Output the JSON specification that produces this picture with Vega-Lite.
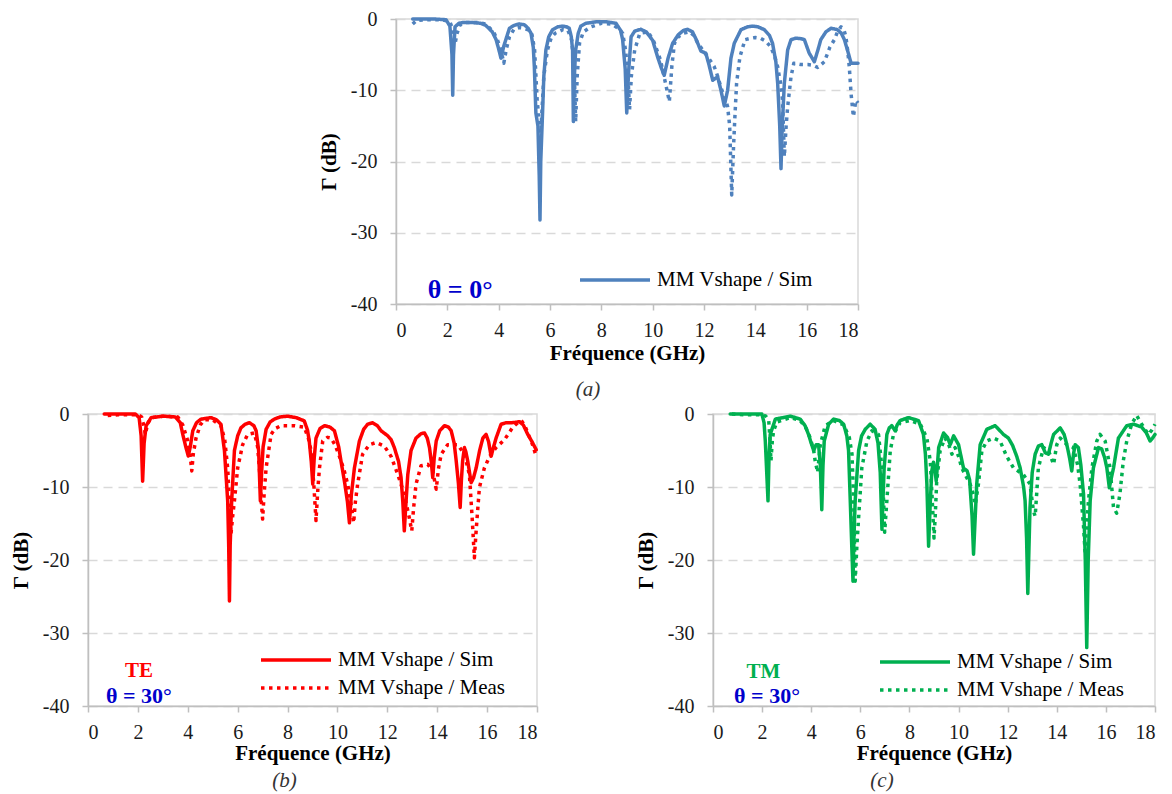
{
"$schema": "https://vega.github.io/schema/vega-lite/v6.json",
"padding": {"left": 9, "top": 8, "right": 0, "bottom": 0},
"config": {
 "font": "Liberation Serif",
 "view": {"stroke": "#d9d9d9", "strokeWidth": 1.5},
 "axis": {"domainColor": "#bfbfbf", "domainWidth": 1.5, "tickColor": "#bfbfbf", "tickWidth": 1.5, "tickSize": 6,
  "labelFont": "Liberation Serif", "labelFontSize": 20, "labelColor": "#1a1a1a",
  "titleFont": "Liberation Serif", "titleFontSize": 21, "titleFontWeight": "bold", "titleColor": "#000000",
  "gridColor": "#d9d9d9", "gridDash": [9, 6], "gridWidth": 1.5},
 "legend": {"labelFont": "Liberation Serif", "labelFontSize": 21, "labelColor": "#000000", "labelLimit": 0, "symbolType": "stroke", "symbolSize": 4900, "symbolStrokeWidth": 3.5, "symbolOpacity": 1, "clipHeight": 22, "rowPadding": 6, "labelOffset": 5, "padding": 0, "orient": "none"},
 "title": {"orient": "bottom", "fontStyle": "italic", "fontWeight": "normal", "fontSize": 21, "font": "Liberation Serif", "color": "#333333", "frame": "group", "anchor": "middle", "offset": 7}
},
"datasets": {
 "a_sim": [{"f":0.65,"db":0},{"f":1.0,"db":0},{"f":1.5,"db":0},{"f":1.95,"db":-0.1},{"f":2.1,"db":-1.0},{"f":2.18,"db":-5},{"f":2.21,"db":-10.7},{"f":2.24,"db":-5},{"f":2.3,"db":-1.1},{"f":2.45,"db":-0.6},{"f":2.6,"db":-0.5},{"f":3.0,"db":-0.5},{"f":3.3,"db":-0.6},{"f":3.5,"db":-0.9},{"f":3.75,"db":-1.8},{"f":3.9,"db":-2.9},{"f":4.0,"db":-4.2},{"f":4.09,"db":-5.5},{"f":4.2,"db":-3.8},{"f":4.42,"db":-1.3},{"f":4.6,"db":-0.9},{"f":4.8,"db":-0.7},{"f":5.0,"db":-0.8},{"f":5.15,"db":-1.3},{"f":5.26,"db":-2.0},{"f":5.35,"db":-4.0},{"f":5.39,"db":-6.7},{"f":5.45,"db":-13.2},{"f":5.53,"db":-15},{"f":5.58,"db":-22},{"f":5.61,"db":-28.2},{"f":5.64,"db":-20},{"f":5.71,"db":-13.2},{"f":5.76,"db":-8},{"f":5.84,"db":-4.35},{"f":5.95,"db":-2.5},{"f":6.1,"db":-1.5},{"f":6.3,"db":-1.1},{"f":6.49,"db":-1.0},{"f":6.65,"db":-1.1},{"f":6.75,"db":-1.3},{"f":6.83,"db":-2.5},{"f":6.88,"db":-4.35},{"f":6.91,"db":-14.4},{"f":6.95,"db":-8},{"f":7.0,"db":-4.35},{"f":7.1,"db":-2.0},{"f":7.2,"db":-1.0},{"f":7.4,"db":-0.6},{"f":7.79,"db":-0.4},{"f":8.2,"db":-0.4},{"f":8.57,"db":-0.6},{"f":8.75,"db":-1.6},{"f":8.83,"db":-2.9},{"f":8.93,"db":-7},{"f":8.99,"db":-13.2},{"f":9.05,"db":-8},{"f":9.16,"db":-2.5},{"f":9.3,"db":-1.7},{"f":9.54,"db":-1.45},{"f":9.75,"db":-1.8},{"f":10.0,"db":-3.0},{"f":10.19,"db":-5.3},{"f":10.33,"db":-6.8},{"f":10.45,"db":-7.9},{"f":10.6,"db":-5.5},{"f":10.78,"db":-3.4},{"f":11.0,"db":-2.2},{"f":11.2,"db":-1.6},{"f":11.36,"db":-1.45},{"f":11.55,"db":-1.8},{"f":11.7,"db":-2.9},{"f":11.88,"db":-4.5},{"f":12.07,"db":-4.8},{"f":12.2,"db":-6.5},{"f":12.34,"db":-8.6},{"f":12.53,"db":-8.1},{"f":12.66,"db":-10.0},{"f":12.79,"db":-12.2},{"f":12.92,"db":-10},{"f":13.05,"db":-5.5},{"f":13.18,"db":-3.4},{"f":13.44,"db":-1.5},{"f":13.7,"db":-1.1},{"f":13.9,"db":-1.0},{"f":14.1,"db":-1.1},{"f":14.35,"db":-1.5},{"f":14.55,"db":-2.3},{"f":14.67,"db":-3.4},{"f":14.8,"db":-6},{"f":14.87,"db":-9.0},{"f":14.95,"db":-15},{"f":15.0,"db":-21.0},{"f":15.05,"db":-15},{"f":15.13,"db":-9.0},{"f":15.26,"db":-4.35},{"f":15.39,"db":-2.9},{"f":15.58,"db":-2.7},{"f":15.75,"db":-2.75},{"f":15.91,"db":-2.9},{"f":16.1,"db":-4.8},{"f":16.3,"db":-6.0},{"f":16.45,"db":-4.2},{"f":16.55,"db":-2.9},{"f":16.75,"db":-1.8},{"f":16.95,"db":-1.3},{"f":17.2,"db":-1.5},{"f":17.35,"db":-2.0},{"f":17.47,"db":-2.9},{"f":17.6,"db":-4.5},{"f":17.73,"db":-6.2},{"f":18.0,"db":-6.2}],
 "a_meas": [{"f":0.65,"db":-0.7},{"f":0.8,"db":-0.2},{"f":1.2,"db":-0.1},{"f":1.8,"db":-0.1},{"f":2.1,"db":-0.4},{"f":2.22,"db":-1.5},{"f":2.3,"db":-3.5},{"f":2.38,"db":-2.0},{"f":2.5,"db":-0.8},{"f":2.7,"db":-0.5},{"f":3.2,"db":-0.5},{"f":3.5,"db":-0.7},{"f":3.8,"db":-1.8},{"f":3.95,"db":-2.9},{"f":4.1,"db":-4.5},{"f":4.2,"db":-6.2},{"f":4.3,"db":-4.2},{"f":4.42,"db":-2.5},{"f":4.6,"db":-1.4},{"f":4.8,"db":-1.2},{"f":5.0,"db":-1.3},{"f":5.2,"db":-1.6},{"f":5.3,"db":-2.2},{"f":5.4,"db":-4.35},{"f":5.5,"db":-11.4},{"f":5.57,"db":-14},{"f":5.64,"db":-16},{"f":5.7,"db":-12},{"f":5.76,"db":-8},{"f":5.9,"db":-4.35},{"f":6.05,"db":-2.6},{"f":6.2,"db":-2.0},{"f":6.5,"db":-1.5},{"f":6.7,"db":-1.6},{"f":6.85,"db":-3},{"f":6.95,"db":-8},{"f":7.0,"db":-14.4},{"f":7.06,"db":-8},{"f":7.15,"db":-3.4},{"f":7.3,"db":-1.8},{"f":7.6,"db":-1.1},{"f":8.0,"db":-0.6},{"f":8.4,"db":-0.7},{"f":8.7,"db":-1.4},{"f":8.83,"db":-2.0},{"f":8.95,"db":-4.5},{"f":9.05,"db":-9},{"f":9.1,"db":-12.7},{"f":9.17,"db":-8},{"f":9.3,"db":-4.35},{"f":9.5,"db":-2.0},{"f":9.82,"db":-1.8},{"f":10.05,"db":-3.2},{"f":10.3,"db":-5.7},{"f":10.5,"db":-9},{"f":10.65,"db":-11.6},{"f":10.75,"db":-6.5},{"f":10.85,"db":-3.4},{"f":11.0,"db":-2.5},{"f":11.2,"db":-2.0},{"f":11.45,"db":-1.8},{"f":11.6,"db":-2.3},{"f":11.76,"db":-3.4},{"f":12.0,"db":-4.6},{"f":12.15,"db":-5.3},{"f":12.4,"db":-6.7},{"f":12.55,"db":-8.2},{"f":12.66,"db":-9.6},{"f":12.8,"db":-11},{"f":12.92,"db":-12.3},{"f":13.0,"db":-15},{"f":13.08,"db":-24.7},{"f":13.15,"db":-18},{"f":13.2,"db":-14},{"f":13.27,"db":-9},{"f":13.4,"db":-5.3},{"f":13.6,"db":-2.9},{"f":13.83,"db":-2.7},{"f":14.0,"db":-2.6},{"f":14.2,"db":-2.7},{"f":14.4,"db":-3.1},{"f":14.6,"db":-3.9},{"f":14.75,"db":-5.2},{"f":14.87,"db":-6.7},{"f":14.98,"db":-9},{"f":15.06,"db":-11.4},{"f":15.13,"db":-19.3},{"f":15.2,"db":-15},{"f":15.26,"db":-12.3},{"f":15.39,"db":-8.1},{"f":15.5,"db":-6.2},{"f":15.78,"db":-6.4},{"f":16.04,"db":-6.4},{"f":16.25,"db":-6.5},{"f":16.43,"db":-6.8},{"f":16.69,"db":-6.0},{"f":16.9,"db":-4},{"f":17.08,"db":-2.9},{"f":17.2,"db":-1.8},{"f":17.34,"db":-1.1},{"f":17.45,"db":-1.5},{"f":17.53,"db":-2.5},{"f":17.6,"db":-4.5},{"f":17.66,"db":-6.7},{"f":17.73,"db":-10.5},{"f":17.82,"db":-13.7},{"f":17.92,"db":-11.4},{"f":18.0,"db":-11.8}],
 "b_sim": [{"f":0.65,"db":0},{"f":1.2,"db":0},{"f":1.9,"db":0},{"f":2.05,"db":-0.5},{"f":2.13,"db":-3},{"f":2.19,"db":-9.2},{"f":2.25,"db":-4},{"f":2.33,"db":-1.6},{"f":2.53,"db":-0.5},{"f":3.0,"db":-0.3},{"f":3.5,"db":-0.4},{"f":3.7,"db":-1.2},{"f":3.8,"db":-2.8},{"f":3.92,"db":-4.5},{"f":4.02,"db":-5.75},{"f":4.1,"db":-4.5},{"f":4.2,"db":-2.3},{"f":4.35,"db":-1.2},{"f":4.53,"db":-0.7},{"f":4.93,"db":-0.5},{"f":5.15,"db":-0.8},{"f":5.33,"db":-1.4},{"f":5.47,"db":-5.0},{"f":5.6,"db":-11.9},{"f":5.64,"db":-18},{"f":5.67,"db":-25.6},{"f":5.7,"db":-18},{"f":5.76,"db":-11.9},{"f":5.87,"db":-5.0},{"f":6.0,"db":-3},{"f":6.13,"db":-1.9},{"f":6.3,"db":-1.4},{"f":6.47,"db":-1.2},{"f":6.65,"db":-1.6},{"f":6.74,"db":-2.3},{"f":6.84,"db":-5},{"f":6.91,"db":-11.9},{"f":6.96,"db":-8},{"f":7.02,"db":-4.5},{"f":7.14,"db":-2.1},{"f":7.3,"db":-1.1},{"f":7.47,"db":-0.7},{"f":7.7,"db":-0.4},{"f":8.0,"db":-0.3},{"f":8.35,"db":-0.5},{"f":8.67,"db":-0.95},{"f":8.8,"db":-2.2},{"f":8.87,"db":-3.7},{"f":8.95,"db":-6.5},{"f":9.01,"db":-9.6},{"f":9.07,"db":-6},{"f":9.14,"db":-3.3},{"f":9.3,"db":-2.0},{"f":9.48,"db":-1.6},{"f":9.7,"db":-1.8},{"f":9.88,"db":-2.3},{"f":10.05,"db":-4.5},{"f":10.14,"db":-6.4},{"f":10.28,"db":-9.2},{"f":10.4,"db":-12},{"f":10.48,"db":-14.9},{"f":10.56,"db":-11},{"f":10.68,"db":-7.4},{"f":10.88,"db":-3.7},{"f":11.05,"db":-2.1},{"f":11.21,"db":-1.4},{"f":11.41,"db":-1.2},{"f":11.6,"db":-1.6},{"f":11.75,"db":-2.3},{"f":12.02,"db":-3.0},{"f":12.15,"db":-3.5},{"f":12.28,"db":-4.6},{"f":12.45,"db":-6.5},{"f":12.55,"db":-8.7},{"f":12.62,"db":-12},{"f":12.68,"db":-16.0},{"f":12.75,"db":-12},{"f":12.82,"db":-8.3},{"f":12.95,"db":-5},{"f":13.15,"db":-3.3},{"f":13.35,"db":-2.7},{"f":13.49,"db":-2.6},{"f":13.6,"db":-3.3},{"f":13.69,"db":-4.6},{"f":13.76,"db":-6.5},{"f":13.82,"db":-8.7},{"f":13.88,"db":-6},{"f":13.96,"db":-3.7},{"f":14.1,"db":-2.3},{"f":14.29,"db":-1.6},{"f":14.45,"db":-1.8},{"f":14.56,"db":-2.3},{"f":14.68,"db":-4},{"f":14.76,"db":-6.4},{"f":14.85,"db":-9.5},{"f":14.92,"db":-12.8},{"f":14.97,"db":-9},{"f":15.02,"db":-6.4},{"f":15.09,"db":-4.6},{"f":15.15,"db":-5.2},{"f":15.22,"db":-6.4},{"f":15.36,"db":-9.4},{"f":15.45,"db":-8.8},{"f":15.56,"db":-7.4},{"f":15.7,"db":-5},{"f":15.83,"db":-3.3},{"f":15.96,"db":-2.8},{"f":16.06,"db":-3.8},{"f":16.16,"db":-5.8},{"f":16.26,"db":-4.5},{"f":16.36,"db":-3.3},{"f":16.56,"db":-1.4},{"f":16.76,"db":-1.2},{"f":16.96,"db":-1.2},{"f":17.13,"db":-1.15},{"f":17.3,"db":-1.05},{"f":17.45,"db":-1.5},{"f":17.63,"db":-2.8},{"f":17.8,"db":-3.8},{"f":17.97,"db":-4.9}],
 "b_meas": [{"f":0.79,"db":-0.2},{"f":1.2,"db":-0.1},{"f":2.0,"db":-0.1},{"f":2.15,"db":-0.4},{"f":2.25,"db":-1.8},{"f":2.3,"db":-2.8},{"f":2.39,"db":-1.3},{"f":2.55,"db":-0.5},{"f":3.0,"db":-0.3},{"f":3.6,"db":-0.4},{"f":3.8,"db":-1.5},{"f":4.0,"db":-3.7},{"f":4.1,"db":-5.8},{"f":4.16,"db":-7.8},{"f":4.22,"db":-5.5},{"f":4.33,"db":-3.3},{"f":4.5,"db":-1.5},{"f":4.67,"db":-0.8},{"f":5.0,"db":-0.8},{"f":5.33,"db":-1.6},{"f":5.48,"db":-3.5},{"f":5.6,"db":-7.4},{"f":5.67,"db":-12},{"f":5.73,"db":-16.5},{"f":5.8,"db":-14},{"f":5.87,"db":-11.9},{"f":6.0,"db":-7.4},{"f":6.2,"db":-4.2},{"f":6.4,"db":-2.8},{"f":6.67,"db":-2.6},{"f":6.8,"db":-4.5},{"f":6.87,"db":-7.4},{"f":6.95,"db":-12},{"f":7.0,"db":-14.4},{"f":7.06,"db":-11},{"f":7.14,"db":-7.4},{"f":7.34,"db":-2.8},{"f":7.5,"db":-2.0},{"f":7.74,"db":-1.6},{"f":8.27,"db":-1.6},{"f":8.67,"db":-1.8},{"f":8.85,"db":-3.5},{"f":8.94,"db":-5.0},{"f":9.05,"db":-9.5},{"f":9.14,"db":-14.6},{"f":9.22,"db":-10},{"f":9.28,"db":-7.4},{"f":9.41,"db":-3.7},{"f":9.6,"db":-3.2},{"f":9.74,"db":-3.3},{"f":9.9,"db":-4.2},{"f":10.08,"db":-5.8},{"f":10.25,"db":-7.5},{"f":10.41,"db":-9.6},{"f":10.55,"db":-12.5},{"f":10.65,"db":-14.9},{"f":10.72,"db":-12},{"f":10.81,"db":-9.6},{"f":11.01,"db":-5.5},{"f":11.28,"db":-4.2},{"f":11.55,"db":-3.9},{"f":11.88,"db":-4.4},{"f":12.15,"db":-5.8},{"f":12.42,"db":-8.3},{"f":12.68,"db":-11.0},{"f":12.88,"db":-14.2},{"f":12.98,"db":-16.0},{"f":13.05,"db":-13},{"f":13.15,"db":-9.6},{"f":13.35,"db":-7.1},{"f":13.62,"db":-6.9},{"f":13.82,"db":-7.8},{"f":13.96,"db":-10.3},{"f":14.05,"db":-7.5},{"f":14.16,"db":-5.5},{"f":14.42,"db":-4.2},{"f":14.82,"db":-4.2},{"f":15.09,"db":-5.5},{"f":15.29,"db":-8.3},{"f":15.4,"db":-14.2},{"f":15.49,"db":-19.7},{"f":15.56,"db":-16},{"f":15.69,"db":-10.1},{"f":15.89,"db":-7.4},{"f":16.1,"db":-5.8},{"f":16.36,"db":-4.6},{"f":16.7,"db":-3.5},{"f":17.03,"db":-1.8},{"f":17.2,"db":-1.3},{"f":17.37,"db":-0.9},{"f":17.5,"db":-1.5},{"f":17.63,"db":-2.6},{"f":17.8,"db":-4},{"f":17.97,"db":-5.8}],
 "c_sim": [{"f":0.7,"db":0},{"f":1.3,"db":0},{"f":1.99,"db":0},{"f":2.08,"db":-1.2},{"f":2.13,"db":-3.7},{"f":2.24,"db":-11.9},{"f":2.28,"db":-6},{"f":2.33,"db":-2.8},{"f":2.54,"db":-0.7},{"f":3.15,"db":-0.3},{"f":3.55,"db":-0.7},{"f":3.75,"db":-1.6},{"f":3.89,"db":-2.8},{"f":4.0,"db":-4},{"f":4.1,"db":-5.0},{"f":4.2,"db":-4.2},{"f":4.3,"db":-4.2},{"f":4.37,"db":-7},{"f":4.43,"db":-13.1},{"f":4.48,"db":-7},{"f":4.53,"db":-3.7},{"f":4.71,"db":-1.4},{"f":4.91,"db":-0.7},{"f":5.15,"db":-0.9},{"f":5.32,"db":-1.4},{"f":5.45,"db":-3},{"f":5.52,"db":-5.0},{"f":5.59,"db":-11.9},{"f":5.65,"db":-18},{"f":5.7,"db":-22.9},{"f":5.74,"db":-17},{"f":5.79,"db":-11.9},{"f":5.93,"db":-5.0},{"f":6.05,"db":-3},{"f":6.2,"db":-2.1},{"f":6.4,"db":-1.4},{"f":6.6,"db":-2.1},{"f":6.72,"db":-4},{"f":6.81,"db":-8},{"f":6.88,"db":-15.8},{"f":6.93,"db":-11},{"f":6.97,"db":-7.4},{"f":7.08,"db":-2.8},{"f":7.18,"db":-1.9},{"f":7.28,"db":-1.6},{"f":7.42,"db":-2.3},{"f":7.5,"db":-1.5},{"f":7.62,"db":-0.9},{"f":7.96,"db":-0.5},{"f":8.37,"db":-0.9},{"f":8.57,"db":-2.8},{"f":8.65,"db":-5.5},{"f":8.71,"db":-9.6},{"f":8.78,"db":-18.1},{"f":8.85,"db":-12},{"f":8.91,"db":-7.8},{"f":8.98,"db":-6.6},{"f":9.05,"db":-8},{"f":9.09,"db":-9.2},{"f":9.14,"db":-7},{"f":9.19,"db":-4.6},{"f":9.39,"db":-2.6},{"f":9.55,"db":-3.2},{"f":9.66,"db":-4.2},{"f":9.8,"db":-3.0},{"f":10.0,"db":-4.2},{"f":10.2,"db":-7.4},{"f":10.35,"db":-7.8},{"f":10.45,"db":-9},{"f":10.55,"db":-14},{"f":10.61,"db":-19.2},{"f":10.68,"db":-14},{"f":10.74,"db":-9.6},{"f":10.88,"db":-4.2},{"f":11.15,"db":-2.1},{"f":11.49,"db":-1.6},{"f":11.83,"db":-2.8},{"f":12.03,"db":-3.3},{"f":12.2,"db":-4.3},{"f":12.37,"db":-5.8},{"f":12.51,"db":-7.4},{"f":12.65,"db":-10},{"f":12.71,"db":-11.9},{"f":12.77,"db":-17},{"f":12.82,"db":-24.6},{"f":12.87,"db":-18},{"f":12.91,"db":-12.8},{"f":13.0,"db":-8},{"f":13.12,"db":-5.5},{"f":13.25,"db":-4.4},{"f":13.39,"db":-4.2},{"f":13.53,"db":-5.3},{"f":13.66,"db":-5.5},{"f":13.77,"db":-4},{"f":13.87,"db":-2.8},{"f":14.14,"db":-1.9},{"f":14.3,"db":-2.8},{"f":14.41,"db":-4.2},{"f":14.52,"db":-6},{"f":14.61,"db":-7.8},{"f":14.68,"db":-5.5},{"f":14.75,"db":-4.2},{"f":14.88,"db":-4.6},{"f":14.98,"db":-7},{"f":15.09,"db":-11.0},{"f":15.16,"db":-20},{"f":15.22,"db":-32.0},{"f":15.28,"db":-20},{"f":15.36,"db":-11.9},{"f":15.49,"db":-7.4},{"f":15.7,"db":-4.6},{"f":15.83,"db":-4.8},{"f":15.95,"db":-6},{"f":16.04,"db":-7.4},{"f":16.14,"db":-10.1},{"f":16.22,"db":-8.8},{"f":16.31,"db":-7.4},{"f":16.51,"db":-3.3},{"f":16.85,"db":-1.6},{"f":17.13,"db":-1.4},{"f":17.46,"db":-1.8},{"f":17.65,"db":-2.6},{"f":17.8,"db":-3.7},{"f":17.9,"db":-3.3},{"f":18.0,"db":-2.8}],
 "c_meas": [{"f":0.77,"db":0},{"f":1.3,"db":-0.1},{"f":2.0,"db":-0.1},{"f":2.15,"db":-0.3},{"f":2.27,"db":-0.9},{"f":2.32,"db":-3.5},{"f":2.36,"db":-6.4},{"f":2.42,"db":-3.5},{"f":2.47,"db":-2.3},{"f":2.6,"db":-1.1},{"f":3.15,"db":-0.5},{"f":3.55,"db":-0.9},{"f":3.8,"db":-2.0},{"f":3.96,"db":-3.3},{"f":4.1,"db":-5.0},{"f":4.16,"db":-6.4},{"f":4.26,"db":-8.0},{"f":4.32,"db":-6},{"f":4.37,"db":-4.2},{"f":4.57,"db":-1.6},{"f":4.91,"db":-0.9},{"f":5.32,"db":-1.5},{"f":5.55,"db":-3.2},{"f":5.66,"db":-5.5},{"f":5.73,"db":-11.9},{"f":5.79,"db":-22.9},{"f":5.86,"db":-18},{"f":5.93,"db":-14.2},{"f":6.06,"db":-7.4},{"f":6.27,"db":-3.7},{"f":6.47,"db":-2.3},{"f":6.74,"db":-2.8},{"f":6.88,"db":-7.4},{"f":6.95,"db":-12},{"f":6.99,"db":-16.2},{"f":7.08,"db":-11.9},{"f":7.22,"db":-5.0},{"f":7.35,"db":-2.8},{"f":7.62,"db":-1.2},{"f":8.03,"db":-0.9},{"f":8.44,"db":-1.4},{"f":8.71,"db":-3.3},{"f":8.85,"db":-6.5},{"f":8.93,"db":-11.9},{"f":9.0,"db":-17},{"f":9.05,"db":-14},{"f":9.11,"db":-9.2},{"f":9.25,"db":-5.0},{"f":9.45,"db":-3.3},{"f":9.6,"db":-4.2},{"f":9.73,"db":-5.5},{"f":9.86,"db":-4.6},{"f":10.0,"db":-5.8},{"f":10.13,"db":-7.4},{"f":10.47,"db":-9.6},{"f":10.6,"db":-11},{"f":10.68,"db":-12.4},{"f":10.81,"db":-9.6},{"f":10.95,"db":-5.0},{"f":11.15,"db":-3.7},{"f":11.42,"db":-3.3},{"f":11.69,"db":-3.7},{"f":11.96,"db":-5.8},{"f":12.24,"db":-7.4},{"f":12.64,"db":-8.3},{"f":12.91,"db":-9.6},{"f":13.05,"db":-13.3},{"f":13.12,"db":-14.0},{"f":13.18,"db":-11},{"f":13.25,"db":-7.4},{"f":13.46,"db":-4.6},{"f":13.66,"db":-5.0},{"f":13.87,"db":-6.9},{"f":14.0,"db":-4.2},{"f":14.14,"db":-3.3},{"f":14.41,"db":-4.2},{"f":14.68,"db":-4.6},{"f":14.85,"db":-7},{"f":14.95,"db":-9.6},{"f":15.09,"db":-15.4},{"f":15.15,"db":-18.8},{"f":15.22,"db":-15},{"f":15.29,"db":-11.9},{"f":15.43,"db":-7.4},{"f":15.63,"db":-3.7},{"f":15.76,"db":-2.8},{"f":15.97,"db":-3.7},{"f":16.17,"db":-7.4},{"f":16.31,"db":-12.8},{"f":16.44,"db":-13.6},{"f":16.57,"db":-11.0},{"f":16.71,"db":-6.4},{"f":16.85,"db":-3.7},{"f":17.05,"db":-1.4},{"f":17.25,"db":-0.2},{"f":17.46,"db":-1.4},{"f":17.73,"db":-2.8},{"f":17.87,"db":-2.2},{"f":18.0,"db":-1.4}]
},
"spacing": 2,
"resolve": {"scale": {"strokeDash": "independent"}, "legend": {"strokeDash": "independent"}},
"vconcat": [
 {
  "spacing": 0,
  "resolve": {"scale": {"strokeDash": "independent"}, "legend": {"strokeDash": "independent"}},
  "hconcat": [
   {"width": 229, "height": 285, "data": {"values": []}, "mark": "point", "view": {"stroke": null}},
   {
    "width": 462, "height": 285,
    "title": {"text": "(a)", "dx": -39, "offset": 16},
    "layer": [
     {"data": {"name": "a_sim"},
      "mark": {"type": "line", "color": "#4F81BD", "strokeWidth": 3.5, "strokeCap": "round", "strokeJoin": "round"},
      "encoding": {
       "x": {"field": "f", "type": "quantitative", "scale": {"domain": [0, 18], "nice": false}, "axis": {"values": [0,2,4,6,8,10,12,14,16,18], "title": "Fréquence (GHz)", "labelFont": "Liberation Serif", "labelFontSize": 20, "labelPadding": 10, "titlePadding": 2, "grid": false, "labelExpr": "'' + datum.value"}},
       "y": {"field": "db", "type": "quantitative", "scale": {"domain": [-40, 0], "nice": false}, "axis": {"values": [-40,-30,-20,-10,0], "title": "Γ (dB)", "labelFont": "Liberation Serif", "labelFontSize": 20, "labelPadding": 13, "titlePadding": 11, "grid": true, "labelExpr": "'' + datum.value"}},
       "strokeDash": {"datum": "MM Vshape / Sim", "type": "nominal", "scale": {"domain": ["MM Vshape / Sim", "MM Vshape / Meas"], "range": [[1, 0], [3.5, 4.5]]},
        "legend": {"title": null, "values": ["MM Vshape / Sim"], "orient": "none", "legendX": 182, "legendY": 250}}
      }},
     {"data": {"name": "a_meas"},
      "mark": {"type": "line", "color": "#4F81BD", "strokeWidth": 3.5, "strokeCap": "butt", "strokeJoin": "round"},
      "encoding": {
       "x": {"field": "f", "type": "quantitative"},
       "y": {"field": "db", "type": "quantitative"},
       "strokeDash": {"datum": "MM Vshape / Meas", "type": "nominal"}
      }},
     {"data": {"values": [{"f": 2.5, "db": -38.0, "label": "θ = 0°"}]},
      "mark": {"type": "text", "color": "#0000CC", "fontSize": 26, "fontWeight": "bold", "font": "Liberation Serif"},
      "encoding": {"x": {"field": "f", "type": "quantitative"}, "y": {"field": "db", "type": "quantitative"}, "text": {"field": "label"}}}
    ]
   }
  ]
 },
 {
  "spacing": 95,
  "resolve": {"scale": {"strokeDash": "independent"}, "legend": {"strokeDash": "independent"}},
  "hconcat": [
   {
    "width": 449, "height": 292,
    "title": {"text": "(b)", "dx": -28},
    "layer": [
     {"data": {"name": "b_sim"},
      "mark": {"type": "line", "color": "#FF0000", "strokeWidth": 3.5, "strokeCap": "round", "strokeJoin": "round"},
      "encoding": {
       "x": {"field": "f", "type": "quantitative", "scale": {"domain": [0, 18], "nice": false}, "axis": {"values": [0,2,4,6,8,10,12,14,16,18], "title": "Fréquence (GHz)", "labelFont": "Liberation Serif", "labelFontSize": 20, "labelPadding": 10, "titlePadding": 0, "grid": false, "labelExpr": "'' + datum.value"}},
       "y": {"field": "db", "type": "quantitative", "scale": {"domain": [-40, 0], "nice": false}, "axis": {"values": [-40,-30,-20,-10,0], "title": "Γ (dB)", "labelFont": "Liberation Serif", "labelFontSize": 20, "labelPadding": 13, "titlePadding": 11, "grid": true, "labelExpr": "'' + datum.value"}},
       "strokeDash": {"datum": "MM Vshape / Sim", "type": "nominal", "scale": {"domain": ["MM Vshape / Sim", "MM Vshape / Meas"], "range": [[1, 0], [3.5, 4.5]]},
        "legend": {"title": null, "orient": "none", "legendX": 171, "legendY": 235}}
      }},
     {"data": {"name": "b_meas"},
      "mark": {"type": "line", "color": "#FF0000", "strokeWidth": 3.5, "strokeCap": "butt", "strokeJoin": "round"},
      "encoding": {
       "x": {"field": "f", "type": "quantitative"},
       "y": {"field": "db", "type": "quantitative"},
       "strokeDash": {"datum": "MM Vshape / Meas", "type": "nominal"}
      }},
     {"data": {"values": [{"f": 2.04, "db": -35.2, "label": "TE"}]},
      "mark": {"type": "text", "color": "#FF0000", "fontSize": 21, "fontWeight": "bold", "font": "Liberation Serif"},
      "encoding": {"x": {"field": "f", "type": "quantitative"}, "y": {"field": "db", "type": "quantitative"}, "text": {"field": "label"}}},
     {"data": {"values": [{"f": 2.04, "db": -38.6, "label": "θ = 30°"}]},
      "mark": {"type": "text", "color": "#0000CC", "fontSize": 22, "fontWeight": "bold", "font": "Liberation Serif"},
      "encoding": {"x": {"field": "f", "type": "quantitative"}, "y": {"field": "db", "type": "quantitative"}, "text": {"field": "label"}}}
    ]
   },
   {
    "width": 442, "height": 292,
    "title": {"text": "(c)", "dx": -52},
    "layer": [
     {"data": {"name": "c_sim"},
      "mark": {"type": "line", "color": "#00B050", "strokeWidth": 3.5, "strokeCap": "round", "strokeJoin": "round"},
      "encoding": {
       "x": {"field": "f", "type": "quantitative", "scale": {"domain": [0, 18], "nice": false}, "axis": {"values": [0,2,4,6,8,10,12,14,16,18], "title": "Fréquence (GHz)", "labelFont": "Liberation Serif", "labelFontSize": 20, "labelPadding": 10, "titlePadding": 0, "grid": false, "labelExpr": "'' + datum.value"}},
       "y": {"field": "db", "type": "quantitative", "scale": {"domain": [-40, 0], "nice": false}, "axis": {"values": [-40,-30,-20,-10,0], "title": "Γ (dB)", "labelFont": "Liberation Serif", "labelFontSize": 20, "labelPadding": 13, "titlePadding": 11, "grid": true, "labelExpr": "'' + datum.value"}},
       "strokeDash": {"datum": "MM Vshape / Sim", "type": "nominal", "scale": {"domain": ["MM Vshape / Sim", "MM Vshape / Meas"], "range": [[1, 0], [3.5, 4.5]]},
        "legend": {"title": null, "orient": "none", "legendX": 165, "legendY": 237}}
      }},
     {"data": {"name": "c_meas"},
      "mark": {"type": "line", "color": "#00B050", "strokeWidth": 3.5, "strokeCap": "butt", "strokeJoin": "round"},
      "encoding": {
       "x": {"field": "f", "type": "quantitative"},
       "y": {"field": "db", "type": "quantitative"},
       "strokeDash": {"datum": "MM Vshape / Meas", "type": "nominal"}
      }},
     {"data": {"values": [{"f": 2.05, "db": -35.3, "label": "TM"}]},
      "mark": {"type": "text", "color": "#00B050", "fontSize": 21, "fontWeight": "bold", "font": "Liberation Serif"},
      "encoding": {"x": {"field": "f", "type": "quantitative"}, "y": {"field": "db", "type": "quantitative"}, "text": {"field": "label"}}},
     {"data": {"values": [{"f": 2.2, "db": -38.6, "label": "θ = 30°"}]},
      "mark": {"type": "text", "color": "#0000CC", "fontSize": 22, "fontWeight": "bold", "font": "Liberation Serif"},
      "encoding": {"x": {"field": "f", "type": "quantitative"}, "y": {"field": "db", "type": "quantitative"}, "text": {"field": "label"}}}
    ]
   }
  ]
 }
]
}
